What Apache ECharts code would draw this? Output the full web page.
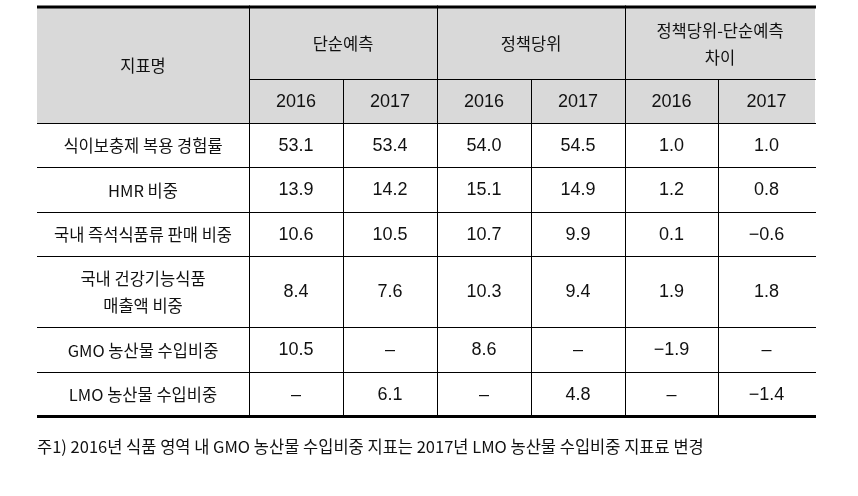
<!DOCTYPE html>
<html>
<head>
<meta charset="utf-8">
<script src="https://cdn.jsdelivr.net/npm/echarts@6/dist/echarts.min.js"></script>
<style>html,body{margin:0;padding:0;background:#fff;}#chart{width:858px;height:496px;}</style>
</head>
<body>
<div id="chart"></div>
<script>
// ---- data ----
var headerLabel = '지표명';
var groups = ['단순예측', '정책당위', '정책당위-단순예측\n차이'];
var years = ['2016', '2017'];
var indicators = ['식이보충제 복용 경험률', 'HMR 비중', '국내 즉석식품류 판매 비중', '국내 건강기능식품\n매출액 비중', 'GMO 농산물 수입비중', 'LMO 농산물 수입비중'];
var simple2016 = [53.1, 13.9, 10.6, 8.4, 10.5, null];
var simple2017 = [53.4, 14.2, 10.5, 7.6, null, 6.1];
var policy2016 = [54.0, 15.1, 10.7, 10.3, 8.6, null];
var policy2017 = [54.5, 14.9, 9.9, 9.4, null, 4.8];
var diff2016 = [1.0, 1.2, 0.1, 1.9, -1.9, null];
var diff2017 = [1.0, 0.8, -0.6, 1.8, null, -1.4];
var footnote = '주1) 2016년 식품 영역 내 GMO 농산물 수입비중 지표는 2017년 LMO 농산물 수입비중 지표료 변경';

// ---- layout (table units) ----
var colEdges = [0, 212, 306, 400, 494, 588, 681, 778];
var rowEdges = [0, 72, 116, 160, 205, 249, 320, 365, 409];
var NUM_FONT = "'Liberation Sans', Arial, sans-serif";
var KR_FONT = "'Noto Sans CJK KR', 'Noto Sans', sans-serif";

function fmt(v) {
  if (v === null || v === undefined) return '–';
  var s = v.toFixed(1);
  return v < 0 ? '−' + s.slice(1) : s;
}

var cells = [];
cells.push({ v: [0, 0, 1, 2], t: headerLabel, h: true, n: false });
groups.forEach(function (g, gi) {
  cells.push({ v: [1 + gi * 2, 0, 2, 1], t: g, h: true, n: false });
  years.forEach(function (y, yi) {
    cells.push({ v: [1 + gi * 2 + yi, 1, 1, 1], t: y, h: true, n: true });
  });
});
var cols = [simple2016, simple2017, policy2016, policy2017, diff2016, diff2017];
indicators.forEach(function (name, ri) {
  cells.push({ v: [0, 2 + ri, 1, 1], t: name, h: false, n: false });
  cols.forEach(function (arr, ci) {
    cells.push({ v: [1 + ci, 2 + ri, 1, 1], t: fmt(arr[ri]), h: false, n: true });
  });
});

var nCols = colEdges.length - 1, nRows = rowEdges.length - 1;

function renderItem(params, api) {
  var c = cells[params.dataIndex];
  var col = api.value(0), row = api.value(1), cs = api.value(2), rs = api.value(3);
  var p0 = api.coord([colEdges[col], rowEdges[row]]);
  var p1 = api.coord([colEdges[col + cs], rowEdges[row + rs]]);
  var x0 = p0[0], y0 = p0[1], x1 = p1[0], y1 = p1[1];
  var children = [];
  if (c.h) {
    children.push({ type: 'rect', z2: 0, shape: { x: x0, y: y0, width: x1 - x0, height: y1 - y0 }, style: { fill: '#d9d9d9' } });
  }
  var lines = c.t.split('\n').length;
  children.push({
    type: 'text', z2: 5,
    style: {
      text: c.t, x: (x0 + x1) / 2, y: (y0 + y1) / 2 + 1,
      align: 'center', verticalAlign: 'middle',
      fill: '#111',
      font: (c.n ? '18px ' + NUM_FONT : '16.5px ' + KR_FONT),
      lineHeight: lines > 1 ? 27 : 20
    }
  });
  if (col + cs < nCols) {
    children.push({ type: 'line', z2: 10, shape: { x1: x1 + 0.5, y1: y0, x2: x1 + 0.5, y2: y1 }, style: { stroke: '#000', lineWidth: 1 } });
  }
  if (row + rs < nRows) {
    children.push({ type: 'line', z2: 10, shape: { x1: x0, y1: y1 + 0.5, x2: x1 + 1, y2: y1 + 0.5 }, style: { stroke: '#000', lineWidth: 1 } });
  } else {
    children.push({ type: 'line', z2: 12, shape: { x1: x0, y1: y1 + 0.5, x2: x1 + 1, y2: y1 + 0.5 }, style: { stroke: '#000', lineWidth: 3 } });
  }
  if (row === 0) {
    children.push({ type: 'line', z2: 12, shape: { x1: x0, y1: y0, x2: x1 + 1, y2: y0 }, style: { stroke: '#000', lineWidth: 3 } });
  }
  return { type: 'group', children: children };
}

var chart = echarts.init(document.getElementById('chart'), null, { renderer: 'canvas' });
chart.setOption({
  animation: false,
  backgroundColor: '#fff',
  grid: { left: 37, top: 7, width: 778, height: 409 },
  xAxis: { type: 'value', min: 0, max: colEdges[colEdges.length - 1], show: false },
  yAxis: { type: 'value', min: 0, max: rowEdges[rowEdges.length - 1], inverse: true, show: false },
  series: [{
    type: 'custom',
    renderItem: renderItem,
    data: cells.map(function (c) { return c.v; }),
    silent: true
  }],
  graphic: [{
    type: 'text', left: 37, top: 438,
    style: { text: footnote, fill: '#111', font: '16.5px ' + KR_FONT }
  }]
});
</script>
</body>
</html>
